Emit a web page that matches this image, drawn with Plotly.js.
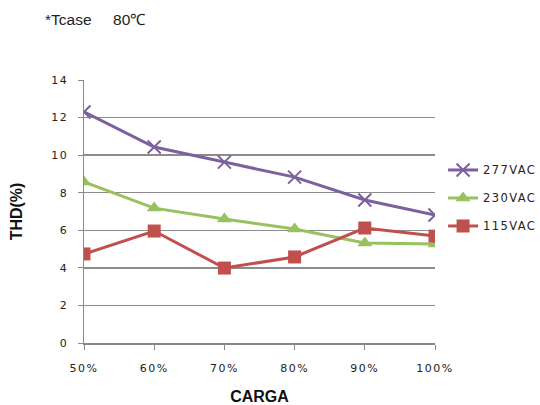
<!DOCTYPE html>
<html>
<head>
<meta charset="utf-8">
<script src="https://cdn.plot.ly/plotly-3.0.1.min.js"></script>
<style>
html,body{margin:0;padding:0;background:#fff;}
#chart{width:540px;height:405px;}
#chart .xtick text, #chart .ytick text {letter-spacing: 1.5px;}
#chart .legendtext {letter-spacing: 1.4px; font-size: 11.5px !important;}
#chart .legend .scrollbox {clip-path: none !important;}
</style>
</head>
<body>
<div id="chart"></div>
<script>
const categories = ["50%", "60%", "70%", "80%", "90%", "100%"];
const vac277 = [12.3, 10.43, 9.63, 8.83, 7.61, 6.81];
const vac230 = [8.57, 7.18, 6.6, 6.07, 5.32, 5.27];
const vac115 = [4.74, 5.96, 3.99, 4.58, 6.12, 5.69];
const seriesNames = ["277VAC", "230VAC", "115VAC"];
const yTicks = [0, 2, 4, 6, 8, 10, 12, 14];

const traces = [
  {x: categories, y: vac277, name: seriesNames[0], legendgroup: "a", type: "scatter", mode: "lines+markers",
   line: {color: "#7D60A0", width: 3},
   marker: {symbol: "x-thin-open", size: 13, line: {color: "#7D60A0", width: 2}}},
  {x: categories, y: vac230, name: seriesNames[1], legendgroup: "b", type: "scatter", mode: "lines+markers",
   line: {color: "#98C160", width: 3},
   marker: {symbol: "triangle-up", size: 13, color: "#98C160"}},
  {x: categories, y: vac115, name: seriesNames[2], legendgroup: "c", type: "scatter", mode: "lines+markers",
   line: {color: "#C0504D", width: 3},
   marker: {symbol: "square", size: 13, color: "#C0504D"}}
];

const layout = {
  width: 540, height: 405,
  margin: {l: 84, r: 105, t: 80, b: 62},
  paper_bgcolor: "#fff", plot_bgcolor: "#fff",
  showlegend: true,
  title: {text: "*Tcase&nbsp;&nbsp;&nbsp;&nbsp;&nbsp;80℃", xref: "container", yref: "container",
          x: 45/540, xanchor: "left", y: 1 - 20/405, yanchor: "middle",
          font: {family: "Liberation Sans", size: 15.5, color: "#222"}},
  legend: {x: 1.023, xanchor: "left", y: 0.713, yanchor: "top",
           font: {family: "DejaVu Sans", size: 10, color: "#222"},
           traceorder: "grouped", tracegroupgap: 9, itemwidth: 30,
           bgcolor: "rgba(0,0,0,0)"},
  xaxis: {
    type: "category", range: [0, 5], showgrid: false,
    showline: true, linecolor: "#888", linewidth: 1.5,
    ticks: "outside", ticklen: 5, tickcolor: "#888", ticklabelstandoff: 9,
    tickfont: {family: "DejaVu Sans", size: 11, color: "#222"},
    title: {text: "<b>CARGA</b>", font: {family: "Liberation Sans", size: 16, color: "#111"}, standoff: 20},
    zeroline: false, fixedrange: true, automargin: false
  },
  yaxis: {
    range: [0, 14], tickvals: yTicks, showgrid: true, gridcolor: "#8c8c8c", gridwidth: 1.5,
    showline: true, linecolor: "#888", linewidth: 1.5,
    ticks: "outside", ticklen: 5, tickcolor: "#888", ticklabelstandoff: 7,
    tickfont: {family: "DejaVu Sans", size: 11, color: "#222"},
    title: {text: "<b>THD(%)</b>", font: {family: "Liberation Sans", size: 16, color: "#111"}, standoff: 27},
    zeroline: false, fixedrange: true, automargin: false
  }
};

Plotly.newPlot("chart", traces, layout, {displayModeBar: false, staticPlot: true});
</script>
</body>
</html>
